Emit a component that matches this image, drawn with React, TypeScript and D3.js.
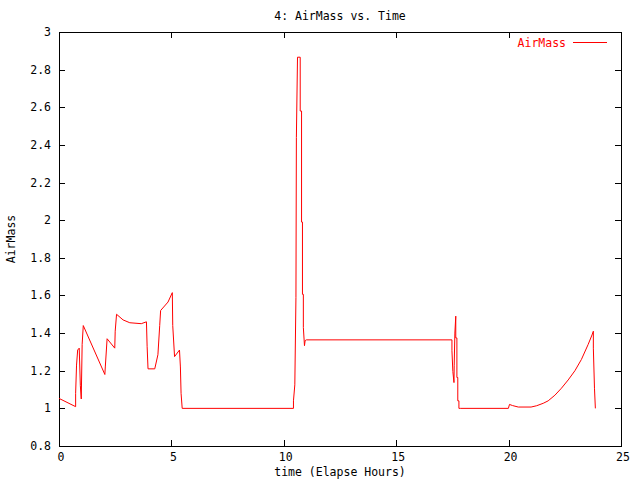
import React, { useEffect, useRef } from "react";
import * as d3 from "d3";

const hours: number[] = [
  0, 0.74, 0.74, 0.78, 0.83, 0.9, 0.95, 0.99, 1.03, 1.08, 2.04, 2.06, 2.14, 2.48, 2.5, 2.56,
  2.85, 3.15, 3.66, 3.89, 3.92, 3.96, 4.26, 4.4, 4.48, 4.52, 4.85, 5.04, 5.06, 5.14, 5.36,
  5.4, 5.43, 5.48, 10.43, 10.43, 10.49, 10.54, 10.56, 10.61, 10.73, 10.73, 10.79, 10.79,
  10.83, 10.83, 10.87, 10.87, 10.92, 10.95, 11.0, 17.48, 17.48, 17.52, 17.57, 17.58, 17.61,
  17.65, 17.65, 17.7, 17.7, 17.74, 17.74, 17.79, 17.79, 17.85, 19.99, 20.04, 20.17, 20.43,
  21.0, 21.25, 21.54, 21.76, 22.06, 22.35, 22.65, 22.95, 23.24, 23.54, 23.71, 23.77, 23.77,
  23.82, 23.86,
];
const airMass: number[] = [
  1.053, 1.009, 1.08, 1.23, 1.31, 1.32, 1.12, 1.05, 1.34, 1.44, 1.18, 1.22, 1.37, 1.32, 1.41,
  1.5, 1.47, 1.455, 1.45, 1.46, 1.33, 1.21, 1.21, 1.285, 1.44, 1.52, 1.565, 1.615, 1.44,
  1.275, 1.31, 1.22, 1.08, 1.0, 1.0, 1.04, 1.125, 1.59, 2.44, 2.866, 2.866, 2.58, 2.58, 1.99,
  1.99, 1.606, 1.606, 1.43, 1.333, 1.36, 1.364, 1.364, 1.306, 1.196, 1.137, 1.226, 1.4, 1.49,
  1.374, 1.374, 1.164, 1.164, 1.04, 1.04, 1.0, 1.0, 1.0, 1.021, 1.015, 1.007, 1.007, 1.014,
  1.027, 1.04, 1.07, 1.107, 1.151, 1.2, 1.26, 1.34, 1.39, 1.41, 1.32, 1.107, 1.0,
];
const xTicks: number[] = [0, 5, 10, 15, 20, 25];
const yTicks: number[] = [0.8, 1, 1.2, 1.4, 1.6, 1.8, 2, 2.2, 2.4, 2.6, 2.8, 3];
const titleText = "4: AirMass vs. Time";
const xLabel = "time (Elapse Hours)";
const yLabel = "AirMass";
const seriesName = "AirMass";

export default function App() {
  const ref = useRef<SVGSVGElement>(null);
  useEffect(() => {
    const svg = d3.select(ref.current);
    svg.selectAll("*").remove();
    const W = 640, H = 480;
    const L = 59, R = 621, T = 32, B = 446;
    const font = "'DejaVu Sans Mono', monospace";
    const fs = 11.5;
    const x = d3.scaleLinear().domain([0, 25]).range([L, R]);
    const y = d3.scaleLinear().domain([0.8, 3]).range([B, T]);
    svg.append("rect").attr("width", W).attr("height", H).attr("fill", "#fff");

    const g = svg.append("g").attr("shape-rendering", "crispEdges");
    const tl = 6;
    xTicks.forEach((t) => {
      const px = Math.round(x(t)) + 0.5;
      g.append("line").attr("x1", px).attr("x2", px).attr("y1", B).attr("y2", B - tl).attr("stroke", "#000");
      g.append("line").attr("x1", px).attr("x2", px).attr("y1", T).attr("y2", T + tl).attr("stroke", "#000");
      svg.append("text").attr("x", x(t) + 2).attr("y", B + 15).attr("text-anchor", "middle")
        .attr("font-family", font).attr("font-size", fs).text(String(t));
    });
    yTicks.forEach((v) => {
      const py = Math.round(y(v)) + 0.5;
      g.append("line").attr("x1", L).attr("x2", L + tl).attr("y1", py).attr("y2", py).attr("stroke", "#000");
      g.append("line").attr("x1", R).attr("x2", R - tl).attr("y1", py).attr("y2", py).attr("stroke", "#000");
      svg.append("text").attr("x", L - 8).attr("y", y(v) + 4).attr("text-anchor", "end")
        .attr("font-family", font).attr("font-size", fs).text(String(v));
    });
    g.append("rect").attr("x", L + 0.5).attr("y", T + 0.5).attr("width", R - L).attr("height", B - T)
      .attr("fill", "none").attr("stroke", "#000");

    const line = d3.line<number>().x((_, i) => x(hours[i])).y((d) => y(d));
    svg.append("path").datum(airMass).attr("d", line).attr("fill", "none").attr("stroke", "#ff0000").attr("stroke-width", 1);

    svg.append("text").attr("x", (L + R) / 2).attr("y", 20).attr("text-anchor", "middle")
      .attr("font-family", font).attr("font-size", fs).text(titleText);
    svg.append("text").attr("x", (L + R) / 2).attr("y", 476).attr("text-anchor", "middle")
      .attr("font-family", font).attr("font-size", fs).text(xLabel);
    svg.append("text").attr("transform", `translate(15,${(T + B) / 2}) rotate(-90)`).attr("text-anchor", "middle")
      .attr("font-family", font).attr("font-size", fs).text(yLabel);
    svg.append("text").attr("x", 566).attr("y", 46.5).attr("text-anchor", "end").attr("fill", "#ff0000")
      .attr("font-family", font).attr("font-size", fs).text(seriesName);
    svg.append("line").attr("x1", 573).attr("x2", 607).attr("y1", 42.5).attr("y2", 42.5).attr("stroke", "#ff0000");
  }, []);
  return (
    <svg ref={ref} width={640} height={480} style={{ position: "absolute", left: 0, top: 0 }} />
  );
}
